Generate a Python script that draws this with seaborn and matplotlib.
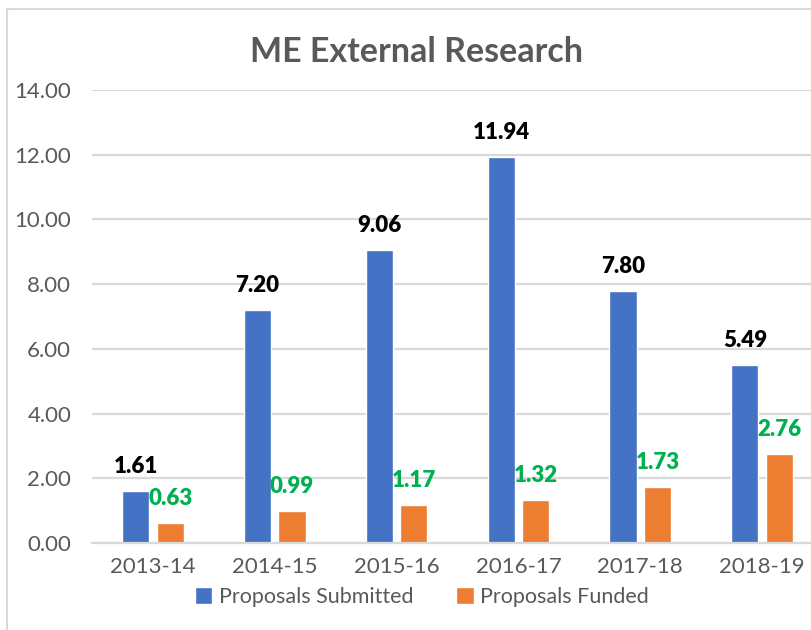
import matplotlib
matplotlib.use("Agg")
import matplotlib.pyplot as plt
from matplotlib.patches import Rectangle, Patch
import pandas as pd
import seaborn as sns

# data
years = ["2013-14", "2014-15", "2015-16", "2016-17", "2017-18", "2018-19"]
submitted = [1.61, 7.20, 9.06, 11.94, 7.80, 5.49]
funded = [0.63, 0.99, 1.17, 1.32, 1.73, 2.76]
series = ["Proposals Submitted", "Proposals Funded"]
y_ticks = [0, 2, 4, 6, 8, 10, 12, 14]

C_BLUE = "#4472C4"
C_ORANGE = "#ED7D31"
C_GREEN = "#00B050"
C_TEXT = "#595959"
C_GRID = "#D9D9D9"

sns.set_theme(style="white")
plt.rcParams["font.family"] = ["Lato", "DejaVu Sans"]

df = pd.DataFrame({
    "Year": years * 2,
    "Value": submitted + funded,
    "Series": [series[0]] * len(years) + [series[1]] * len(years),
})

fig = plt.figure(figsize=(8.12, 6.30), dpi=100)
ax = fig.add_axes([92 / 812, 1 - 543 / 630, 731 / 812, 453 / 630])

sns.barplot(data=df, x="Year", y="Value", hue="Series", order=years,
            hue_order=series, palette=[C_BLUE, C_ORANGE], width=0.566,
            gap=0.215, saturation=1, errorbar=None, legend=False, ax=ax)

ax.set_xlim(-0.5, 5.5)
ax.set_ylim(0, 14)
ax.set_yticks(y_ticks)
ax.set_yticklabels([f"{v:.2f}" for v in y_ticks])
ax.set_xlabel("")
ax.set_ylabel("")
ax.grid(axis="y", color=C_GRID, linewidth=1.6)
ax.set_axisbelow(True)
for s in ["top", "right", "left"]:
    ax.spines[s].set_visible(False)
ax.spines["bottom"].set_color(C_GRID)
ax.spines["bottom"].set_linewidth(1.6)
ax.tick_params(axis="y", length=0, pad=15, labelsize=16, labelcolor=C_TEXT)
ax.tick_params(axis="x", length=0, pad=10, labelsize=16, labelcolor=C_TEXT)

# data labels
for bar, v in zip(ax.containers[0], submitted):
    ax.annotate(f"{v:.2f}", (bar.get_x() + bar.get_width() / 2, bar.get_height()),
                xytext=(0, 10), textcoords="offset points", ha="center", va="bottom",
                fontsize=16, fontweight="heavy", color="black")
for bar, v in zip(ax.containers[1], funded):
    ax.annotate(f"{v:.2f}", (bar.get_x() + bar.get_width() / 2, bar.get_height()),
                xytext=(0, 10), textcoords="offset points", ha="center", va="bottom",
                fontsize=16, fontweight="heavy", color=C_GREEN)

fig.text(417 / 812, 1 - 52 / 630, "ME External Research", ha="center", va="center",
         fontsize=24.5, fontweight="bold", color=C_TEXT)

handles = [Patch(facecolor=C_BLUE), Patch(facecolor=C_ORANGE)]
fig.legend(handles, series, loc="center", bbox_to_anchor=(422 / 812, 1 - 597 / 630),
           ncol=2, frameon=False, fontsize=15.5, labelcolor=C_TEXT,
           handlelength=0.8, handleheight=0.8, handletextpad=0.3, columnspacing=2.0)

# chart border (cropped on right and bottom)
fig.add_artist(Rectangle((7 / 812, -0.1), 1.2, 1.1 - 9 / 630, transform=fig.transFigure,
                         fill=False, edgecolor=C_GRID, linewidth=1.5))

fig.savefig("out.png", dpi=100)
